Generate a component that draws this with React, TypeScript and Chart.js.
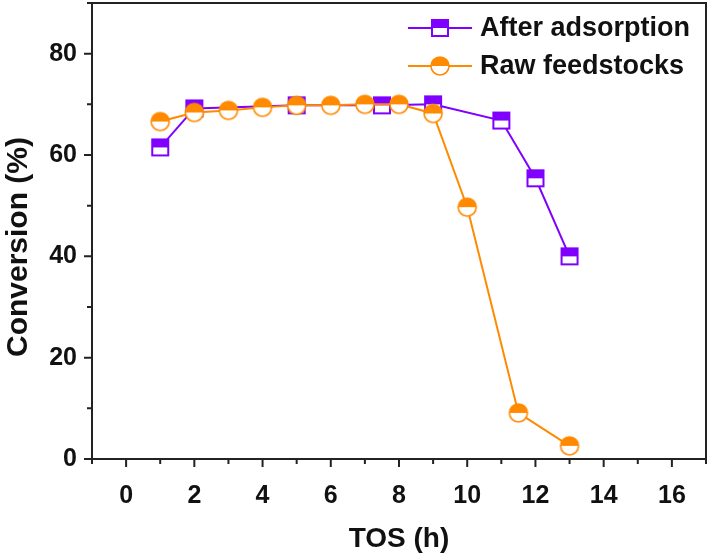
import React, { useEffect, useRef } from "react";
import { Chart, registerables } from "chart.js";

Chart.register(...registerables);

const afterX = [1, 2, 5, 7.5, 9, 11, 12, 13];
const afterY = [61.5, 69.2, 69.8, 69.8, 70, 66.8, 55.4, 40];
const rawX = [1, 2, 3, 4, 5, 6, 7, 8, 9, 10, 11.5, 13];
const rawY = [66.6, 68.4, 68.8, 69.4, 69.8, 69.8, 70, 70, 68.2, 49.7, 9.1, 2.6];
const seriesNames = ["After adsorption", "Raw feedstocks"];
const xTickLabels = [0, 2, 4, 6, 8, 10, 12, 14, 16];
const yTickLabels = [0, 20, 40, 60, 80];
const xTitle = "TOS (h)";
const yTitle = "Conversion (%)";

const PURPLE = "#7f00ff";
const ORANGE = "#ff8a00";
const AXIS = "#222222";
const FONT = "'Liberation Sans', Arial, sans-serif";

function makeSquare(color: string): HTMLCanvasElement {
  const c = document.createElement("canvas");
  c.width = 20;
  c.height = 20;
  const ctx = c.getContext("2d")!;
  const s = 16, o = 2;
  ctx.fillStyle = "#fff";
  ctx.fillRect(o, o, s, s);
  ctx.fillStyle = color;
  ctx.fillRect(o, o, s, s / 2);
  ctx.strokeStyle = color;
  ctx.lineWidth = 2;
  ctx.strokeRect(o, o, s, s);
  return c;
}

function makeCircle(color: string): HTMLCanvasElement {
  const c = document.createElement("canvas");
  c.width = 22;
  c.height = 22;
  const ctx = c.getContext("2d")!;
  const r = 9, cx = 11, cy = 11;
  ctx.fillStyle = "#fff";
  ctx.beginPath();
  ctx.arc(cx, cy, r, 0, Math.PI * 2);
  ctx.fill();
  ctx.fillStyle = color;
  ctx.beginPath();
  ctx.arc(cx, cy, r, Math.PI, Math.PI * 2);
  ctx.closePath();
  ctx.fill();
  ctx.strokeStyle = color;
  ctx.lineWidth = 1.6;
  ctx.beginPath();
  ctx.arc(cx, cy, r, 0, Math.PI * 2);
  ctx.stroke();
  return c;
}

export default function App() {
  const ref = useRef<HTMLCanvasElement | null>(null);

  useEffect(() => {
    document.body.style.margin = "0";
    const canvas = ref.current!;
    const sq = makeSquare(PURPLE);
    const ci = makeCircle(ORANGE);

    const framePlugin = {
      id: "frameTicks",
      afterDatasetsDraw(chart: any) {
        const { ctx, chartArea, scales } = chart;
        const xs = scales.x, ys = scales.y;
        ctx.save();
        ctx.strokeStyle = AXIS;
        ctx.lineWidth = 2;
        ctx.strokeRect(chartArea.left, chartArea.top, chartArea.right - chartArea.left, chartArea.bottom - chartArea.top);
        ctx.beginPath();
        for (let v = -1; v <= 17; v++) {
          const px = xs.getPixelForValue(v);
          const len = v % 2 === 0 ? 8 : 5;
          ctx.moveTo(px, chartArea.bottom);
          ctx.lineTo(px, chartArea.bottom + len);
        }
        for (let v = 0; v <= 90; v += 10) {
          const py = ys.getPixelForValue(v);
          const len = v % 20 === 0 ? 8 : 5;
          ctx.moveTo(chartArea.left, py);
          ctx.lineTo(chartArea.left - len, py);
        }
        ctx.stroke();

        // y title, drawn slightly below the plot centre as in the source
        ctx.save();
        ctx.translate(19, 247);
        ctx.rotate(-Math.PI / 2);
        ctx.fillStyle = "#111";
        ctx.font = `bold 30px ${FONT}`;
        ctx.textAlign = "center";
        ctx.textBaseline = "middle";
        ctx.fillText(yTitle, 0, 0);
        ctx.restore();

        const items = [
          { name: seriesNames[0], color: PURPLE, img: sq, y: 28 },
          { name: seriesNames[1], color: ORANGE, img: ci, y: 66 },
        ];
        items.forEach((it) => {
          ctx.strokeStyle = it.color;
          ctx.lineWidth = 2;
          ctx.beginPath();
          ctx.moveTo(408, it.y);
          ctx.lineTo(472, it.y);
          ctx.stroke();
          ctx.drawImage(it.img, 440 - it.img.width / 2, it.y - it.img.height / 2);
          ctx.fillStyle = "#111";
          ctx.font = `bold 27px ${FONT}`;
          ctx.textBaseline = "middle";
          ctx.textAlign = "left";
          ctx.fillText(it.name, 480, it.y + 1);
        });
        ctx.restore();
      },
    };

    const chart = new Chart(canvas, {
      type: "line",
      data: {
        datasets: [
          {
            label: seriesNames[0],
            data: afterX.map((x, i) => ({ x, y: afterY[i] })),
            borderColor: PURPLE,
            borderWidth: 2,
            pointStyle: sq as any,
            order: 1,
          },
          {
            label: seriesNames[1],
            data: rawX.map((x, i) => ({ x, y: rawY[i] })),
            borderColor: ORANGE,
            borderWidth: 2,
            pointStyle: ci as any,
            order: 0,
          },
        ],
      },
      options: {
        animation: false,
        responsive: false,
        devicePixelRatio: 1,
        layout: { autoPadding: false, padding: { top: 3, right: 3, left: 0, bottom: 0 } },
        plugins: { legend: { display: false }, tooltip: { enabled: false } },
        scales: {
          x: {
            type: "linear",
            min: -1,
            max: 17,
            grid: { display: false, drawTicks: false },
            border: { display: false },
            afterBuildTicks: (s: any) => {
              s.ticks = xTickLabels.map((v) => ({ value: v }));
            },
            afterFit: (s: any) => {
              s.height = 97;
              s.paddingLeft = 0;
              s.paddingRight = 0;
            },
            ticks: {
              padding: 22,
              color: "#111",
              font: { family: FONT, size: 25, weight: "bold" },
              maxRotation: 0,
            },
            title: {
              display: true,
              text: xTitle,
              color: "#111",
              font: { family: FONT, size: 28, weight: "bold" },
              padding: { top: 0, bottom: 0 },
            },
          },
          y: {
            type: "linear",
            min: 0,
            max: 90,
            grid: { display: false, drawTicks: false },
            border: { display: false },
            afterBuildTicks: (s: any) => {
              s.ticks = yTickLabels.map((v) => ({ value: v }));
            },
            afterFit: (s: any) => {
              s.width = 92;
              s.paddingTop = 0;
              s.paddingBottom = 0;
            },
            ticks: {
              padding: 15,
              color: "#111",
              font: { family: FONT, size: 25, weight: "bold" },
            },
            title: { display: false },
          },
        },
      },
      plugins: [framePlugin],
    });
    return () => chart.destroy();
  }, []);

  return (
    <div style={{ width: 709, height: 556 }}>
      <canvas ref={ref} width={709} height={556} style={{ display: "block" }} />
    </div>
  );
}
